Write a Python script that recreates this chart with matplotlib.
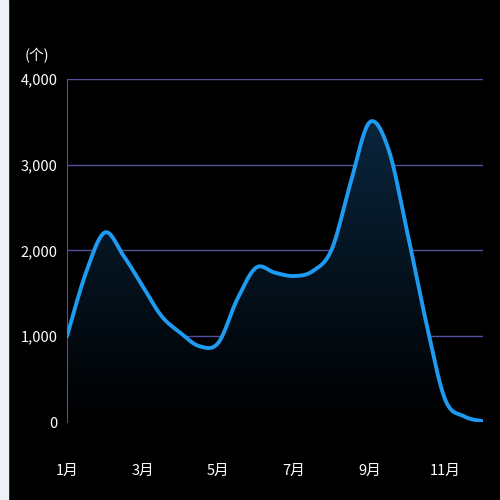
import numpy as np
import matplotlib
matplotlib.use("Agg")
import matplotlib.pyplot as plt
from matplotlib.patches import Rectangle

plt.rcParams['font.family'] = ['Noto Sans CJK SC', 'DejaVu Sans']

# half-month samples, index 0 = 1月
month_pos = np.arange(0, 11.01, 0.5)
values = [1000, 1740, 2210, 1935, 1585, 1235, 1040, 884, 923, 1430, 1800, 1741,
          1702, 1760, 2014, 2793, 3494, 3182, 2208, 1157, 261, 66, 8]
tick_pos = [0, 2, 4, 6, 8, 10]
tick_labels = ["1月", "3月", "5月", "7月", "9月", "11月"]
y_ticks = [0, 1000, 2000, 3000, 4000]


def smooth(x, y, n=20):
    """ Catmull-Rom smoothing for drawing the line """
    x = np.asarray(x, float)
    y = np.asarray(y, float)
    px = np.concatenate([[x[0]], x, [x[-1]]])
    py = np.concatenate([[y[0]], y, [y[-1]]])
    xs, ys = [], []
    t = np.linspace(0, 1, n, endpoint=False)
    for i in range(1, len(px) - 2):
        for p, out in ((px, xs), (py, ys)):
            p0, p1, p2, p3 = p[i - 1], p[i], p[i + 1], p[i + 2]
            out.extend(0.5 * (2 * p1 + (-p0 + p2) * t
                              + (2 * p0 - 5 * p1 + 4 * p2 - p3) * t ** 2
                              + (-p0 + 3 * p1 - 3 * p2 + p3) * t ** 3))
    xs.append(x[-1])
    ys.append(y[-1])
    return np.array(xs), np.array(ys)


fig = plt.figure(figsize=(5, 5), dpi=100, facecolor='black')
fig.add_artist(Rectangle((0, 0), 0.016, 1, transform=fig.transFigure,
                         color='#eef0f7', zorder=0))
ax = fig.add_axes([0.134, 0.156, 0.832, 0.686], facecolor='black')

sx, sy = smooth(month_pos, values)
grad = np.linspace(0, 1, 256).reshape(-1, 1)
cmap = matplotlib.colors.LinearSegmentedColormap.from_list('g', ['#000000', '#0b2a45'])
img = ax.imshow(grad, cmap=cmap, origin='lower', aspect='auto',
                extent=[0, 11, 0, 4000], zorder=1)
poly = ax.fill_between(sx, 0, sy, color='none')
img.set_clip_path(poly.get_paths()[0], transform=ax.transData)
ax.plot(sx, sy, color='#1e9bf0', lw=2.8, zorder=3, solid_capstyle='round')

ax.set_xlim(0, 11)
ax.set_ylim(0, 4000)
ax.set_yticks(y_ticks)
ax.set_yticklabels([f"{v:,}" for v in y_ticks])
ax.set_xticks(tick_pos)
ax.set_xticklabels(tick_labels)
ax.grid(axis='y', color='#50509e', lw=1.0)
ax.set_axisbelow(True)
for s in ['top', 'right', 'bottom']:
    ax.spines[s].set_visible(False)
ax.spines['left'].set_color('#50509e')
ax.tick_params(axis='both', length=0, colors='white', labelsize=10.5)
ax.tick_params(axis='x', pad=30)
ax.tick_params(axis='y', pad=7)
fig.text(0.05, 0.88, "(个)", color='white', fontsize=10.5)

fig.savefig("out.png", facecolor='black')
